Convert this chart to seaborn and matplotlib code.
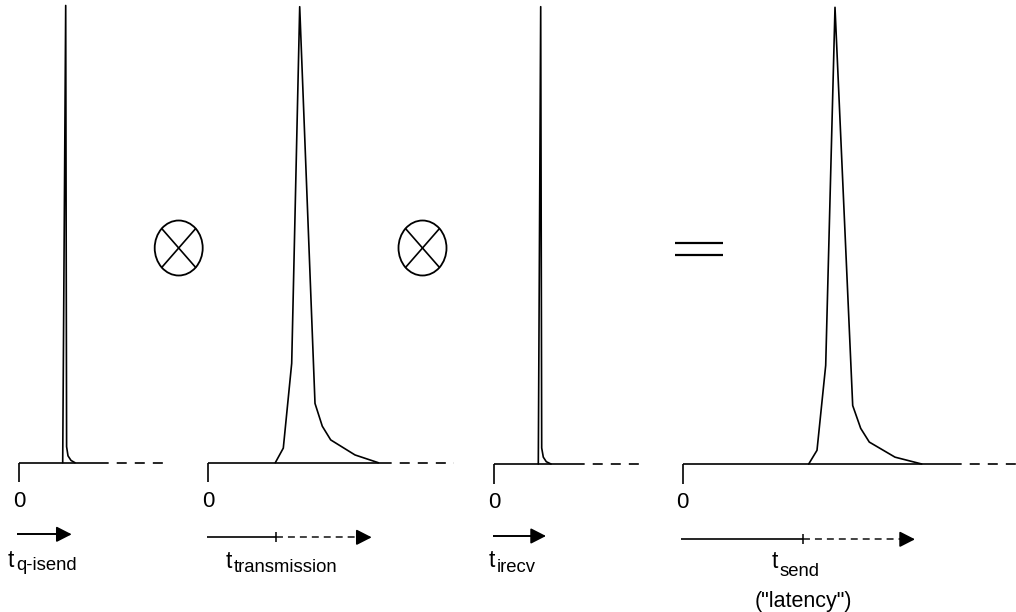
import numpy as np
import pandas as pd
import matplotlib
matplotlib.use("Agg")
import matplotlib.pyplot as plt
import seaborn as sns
from matplotlib.patches import Ellipse

# ---------------- data (time in px-like units from origin, density relative to peak) -------------
t_qisend = [43.7, 46.7, 47.6, 49.0, 52.0, 56.0]
d_qisend = [0.0, 1.0, 0.035, 0.015, 0.005, 0.0]

t_trans = [67.0, 75.0, 83.4, 91.4, 106.7, 114.0, 122.4, 146.7, 170.0]
d_trans = [0.0, 0.032, 0.218, 1.0, 0.130, 0.080, 0.050, 0.017, 0.0]

t_irecv = [44.0, 46.4, 47.4, 49.0, 52.0, 56.7]
d_irecv = [0.0, 1.0, 0.035, 0.015, 0.005, 0.0]

t_send = [126.0, 134.3, 143.0, 152.3, 170.0, 178.0, 186.6, 212.3, 239.0]
d_send = [0.0, 0.030, 0.216, 1.0, 0.128, 0.078, 0.048, 0.015, 0.0]

main_labels = ["t", "t", "t", "t"]
sub_labels = ["q-isend", "transmission", "irecv", "send"]
extra_label = '("latency")'
zero_label = "0"

# ---------------- figure ----------------
sns.set_theme(style="white")
plt.rcParams['font.family'] = ['Liberation Sans', 'DejaVu Sans']
plt.rcParams['lines.scale_dashes'] = False

W, H = 1016, 612
fig = plt.figure(figsize=(W / 100, H / 100), dpi=100)
fig.patch.set_facecolor("white")

bg = fig.add_axes([0, 0, 1, 1])
bg.set_xlim(0, W)
bg.set_ylim(H, 0)
bg.axis("off")

LW = 1.2
BLW = 1.2

# panel geometry: origin x, baseline y, solid end, dash end, peak y
panels = [
    dict(t=t_qisend, d=d_qisend, ox=19.0, base=462.7, solid=107.0, dend=170.0, top=5.5),
    dict(t=t_trans, d=d_trans, ox=208.3, base=462.7, solid=390.0, dend=454.0, top=6.7),
    dict(t=t_irecv, d=d_irecv, ox=494.3, base=464.0, solid=583.3, dend=645.0, top=6.7),
    dict(t=t_send, d=d_send, ox=682.7, base=464.0, solid=960.0, dend=1016.0, top=7.3),
]

for p in panels:
    span = p["dend"] - p["ox"]
    h = p["base"] - p["top"]
    ax = fig.add_axes([p["ox"] / W, (H - p["base"]) / H, span / W, h / H])
    ax.set_xlim(0, span)
    ax.set_ylim(0, 1)
    ax.axis("off")
    df = pd.DataFrame({"time": p["t"], "density": p["d"]})
    sns.lineplot(data=df, x="time", y="density", ax=ax, color="black", lw=LW,
                 estimator=None, sort=False, clip_on=False)
    # baseline solid + dashed
    ax.plot([0, p["solid"] - p["ox"]], [0, 0], color="black", lw=BLW, clip_on=False,
             solid_capstyle="butt")
    ax.plot([p["solid"] - p["ox"], span], [0, 0], color="black", lw=BLW, clip_on=False,
             linestyle=(6.0, (7.2, 5.8)))
    # origin tick going down
    ax.plot([0, 0], [0, -19.5 / h], color="black", lw=BLW, clip_on=False,
             solid_capstyle="butt")
    # zero label
    bg.text(p["ox"], p["base"] + 39, zero_label, ha="center", va="center", fontsize=16,
            color="black")

# ---------------- arrows under each panel ----------------
arrows = [
    dict(x0=16.7, x1=71.7, y=534.3, tick=None),
    dict(x0=206.7, x1=371.7, y=537.3, tick=275.7),
    dict(x0=492.7, x1=546.0, y=536.0, tick=None),
    dict(x0=681.0, x1=915.0, y=539.3, tick=803.3),
]
HEAD = 13.0
for a in arrows:
    if a["tick"] is None:
        bg.plot([a["x0"], a["x1"] - HEAD + 1], [a["y"], a["y"]], color="black", lw=1.4,
                solid_capstyle="butt")
    else:
        bg.plot([a["x0"], a["tick"]], [a["y"], a["y"]], color="black", lw=1.2,
                solid_capstyle="butt")
        bg.plot([a["tick"], a["x1"] - HEAD + 1], [a["y"], a["y"]], color="#222222", lw=1.2,
                linestyle=(0, (5.0, 3.6)))
        bg.plot([a["tick"], a["tick"]], [a["y"] - 5, a["y"] + 5], color="black", lw=1.1,
                solid_capstyle="butt")
    bg.annotate("", xy=(a["x1"], a["y"]), xytext=(a["x1"] - HEAD, a["y"]),
                arrowprops=dict(arrowstyle="-|>,head_length=0.47,head_width=0.24",
                                mutation_scale=20, color="black", lw=1.2,
                                shrinkA=0, shrinkB=0))

# ---------------- labels ----------------
label_pos = [
    dict(x=8.0, yb=566.7, sx=16.0, syb=570.5),
    dict(x=225.5, yb=568.0, sx=233.5, syb=572.5),
    dict(x=489.0, yb=566.7, sx=497.0, syb=571.5),
    dict(x=771.5, yb=568.0, sx=779.5, syb=576.5),
]
for lab, sub, lp in zip(main_labels, sub_labels, label_pos):
    bg.text(lp["x"], lp["yb"], lab, ha="left", va="baseline", fontsize=16.5, color="black")
    bg.text(lp["sx"], lp["syb"], sub, ha="left", va="baseline", fontsize=13.3, color="black")
bg.text(803.0, 601.0, extra_label, ha="center", va="center", fontsize=15.5, color="black")

# ---------------- operators ----------------
for cx in [178.7, 422.5]:
    cy, rx, ry = 248.0, 24.0, 27.5
    bg.add_patch(Ellipse((cx, cy), 2 * rx, 2 * ry, fill=False, edgecolor="black", lw=1.3))
    c45 = np.cos(np.pi / 4)
    bg.plot([cx - rx * c45, cx + rx * c45], [cy - ry * c45, cy + ry * c45], color="black", lw=1.2)
    bg.plot([cx - rx * c45, cx + rx * c45], [cy + ry * c45, cy - ry * c45], color="black", lw=1.2)

for yy in [243.0, 255.0]:
    bg.plot([674.6, 722.7], [yy, yy], color="black", lw=1.6, solid_capstyle="butt")

fig.savefig("out.png", dpi=100, facecolor="white")
